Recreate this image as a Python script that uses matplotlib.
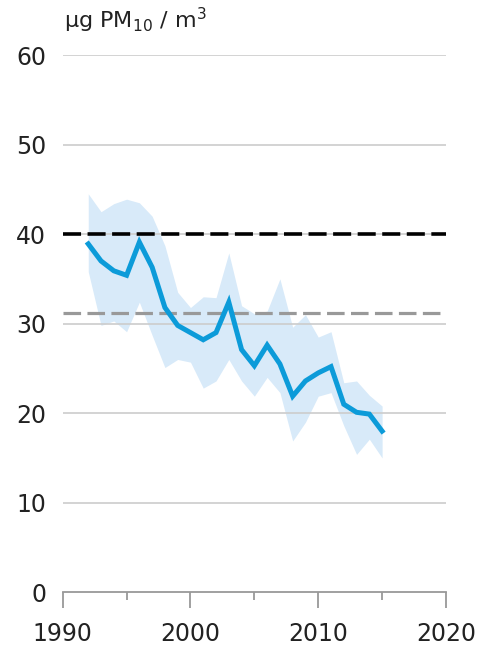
import matplotlib
matplotlib.use("Agg")
import matplotlib.pyplot as plt

years = list(range(1992, 2016))
mean_pm10 = [38.9, 37.0, 35.9, 35.4, 39.1, 36.3, 31.8, 29.8, 29.0, 28.2, 29.0, 32.4,
             27.1, 25.3, 27.6, 25.5, 21.9, 23.6, 24.5, 25.2, 21.0, 20.1, 19.9, 18.0]
upper_pm10 = [44.5, 42.5, 43.4, 43.9, 43.5, 42.0, 38.7, 33.5, 31.8, 33.0, 32.9, 37.9,
              32.0, 31.1, 31.4, 35.0, 29.6, 31.0, 28.5, 29.1, 23.4, 23.6, 22.0, 20.8]
lower_pm10 = [35.8, 29.8, 30.3, 29.1, 32.4, 28.7, 25.1, 26.0, 25.7, 22.8, 23.6, 26.0,
              23.6, 21.9, 24.0, 22.3, 16.9, 19.0, 21.9, 22.3, 18.6, 15.4, 17.1, 15.0]
eu_limit = 40
other_limit = 31.2
x_ticks = [1990, 2000, 2010, 2020]
x_minor = [1995, 2005, 2015]
y_ticks = [0, 10, 20, 30, 40, 50, 60]
unit_label = r"µg PM$_{10}$ / m$^3$"

plt.rcParams['font.family'] = ['DejaVu Sans']
plt.rcParams['mathtext.fontset'] = 'dejavusans'

fig = plt.figure(figsize=(4.85, 6.51), dpi=100)
ax = fig.add_axes([62.7/485, 58.7/651, 383.3/485, 537.3/651])

ax.fill_between(years, lower_pm10, upper_pm10, color='#d8eaf9', lw=0, zorder=1)
for y in y_ticks[1:]:
    ax.axhline(y, color='#cccccc', lw=1.2, zorder=2)
ax.axhline(eu_limit, color='black', lw=2.6, dashes=(5, 1.8), zorder=3)
ax.axhline(other_limit, color='#999999', lw=2.3, dashes=(5.5, 2.0), zorder=3)
ax.plot(years, mean_pm10, color='#0c9bd9', lw=3.6, solid_joinstyle='miter', zorder=4)

ax.set_xlim(1990, 2020)
ax.set_ylim(0, 60)
ax.set_xticks(x_ticks)
ax.set_xticks(x_minor, minor=True)
ax.set_yticks(y_ticks)

for s in ['left', 'right', 'top']:
    ax.spines[s].set_visible(False)
ax.spines['bottom'].set_color('#999999')
ax.spines['bottom'].set_linewidth(1.3)

ax.tick_params(axis='x', which='major', length=11.5, width=1.3, color='#999999',
               labelsize=17, pad=10, labelcolor='#222222')
ax.tick_params(axis='x', which='minor', length=6, width=1.3, color='#999999')
ax.tick_params(axis='y', length=0, labelsize=17, pad=12, labelcolor='#222222')

fig.text(64/485, 1 - 20/651, unit_label, fontsize=16, color='#222222',
         ha='left', va='center')

fig.savefig('out.png', dpi=100)
